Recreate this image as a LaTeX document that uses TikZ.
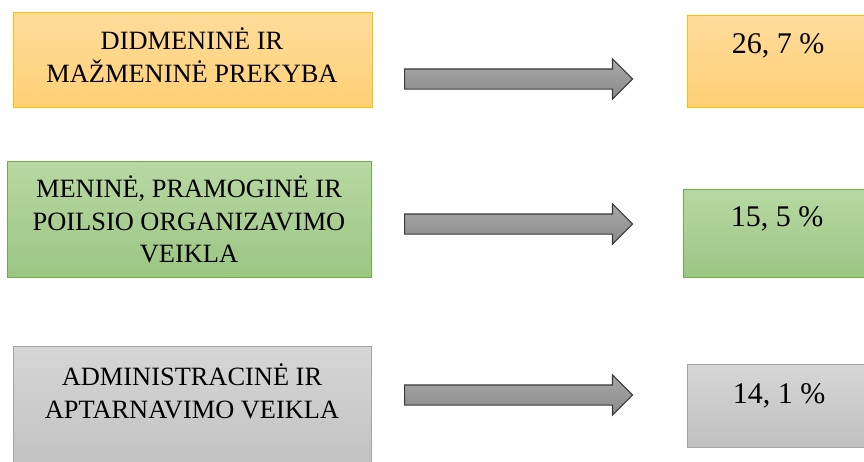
\documentclass[tikz,border=0pt]{standalone}
\usepackage{fontspec}
\setmainfont{Liberation Serif}
\usetikzlibrary{shapes.arrows}

% palette
\definecolor{orangeTop}{HTML}{FFDC9C}
\definecolor{orangeBot}{HTML}{FFD074}
\definecolor{orangeLine}{HTML}{FFC000}
\definecolor{greenTop}{HTML}{B7D8A3}
\definecolor{greenBot}{HTML}{9CC583}
\definecolor{greenLine}{HTML}{70AD47}
\definecolor{grayTop}{HTML}{D6D6D6}
\definecolor{grayBot}{HTML}{C0C0C0}
\definecolor{grayLine}{HTML}{A5A5A5}
\definecolor{arrowTop}{HTML}{A8A8A8}
\definecolor{arrowBot}{HTML}{8A8A8A}
\definecolor{arrowLine}{HTML}{3A3A3A}

\tikzset{
  box/.style={rectangle, anchor=north west, inner sep=0pt, line width=0.9pt},
  orangebox/.style={box, draw=orangeLine, top color=orangeTop, bottom color=orangeBot},
  greenbox/.style={box, draw=greenLine, top color=greenTop, bottom color=greenBot},
  graybox/.style={box, draw=grayLine, top color=grayTop, bottom color=grayBot},
  labeltext/.style={anchor=north, align=center, inner sep=0pt,
    font=\fontsize{26.4}{32.5}\selectfont},
  valuetext/.style={anchor=north, align=center, inner sep=0pt,
    font=\fontsize{30}{36}\selectfont},
  blockarrow/.style={single arrow, anchor=west, inner sep=0pt,
    text height=19pt, text depth=0pt, minimum height=228pt,
    single arrow head extend=10pt, single arrow tip angle=90,
    draw=arrowLine, line width=1.1pt,
    top color=arrowTop, bottom color=arrowBot},
}

\begin{document}
\begin{tikzpicture}[x=1pt, y=-1pt]
  \useasboundingbox (0,0) rectangle (864,461);
  \clip (0,0) rectangle (864,461);

  % left column: sectors
  \node[orangebox, minimum width=359pt, minimum height=95pt] (s1) at (13,12) {};
  \node[greenbox,  minimum width=364pt, minimum height=116pt] (s2) at (7,161) {};
  \node[graybox,   minimum width=358pt, minimum height=130pt] (s3) at (13,346) {};

  \node[labeltext] (s1t) at (192,28) {DIDMENINĖ IR\\MAŽMENINĖ PREKYBA};
  \node[labeltext] (s2t) at (189,176) {MENINĖ, PRAMOGINĖ IR\\POILSIO ORGANIZAVIMO\\VEIKLA};
  \node[labeltext] (s3t) at (192,364) {ADMINISTRACINĖ IR\\APTARNAVIMO VEIKLA};

  % right column: shares
  \node[orangebox, minimum width=182pt, minimum height=92pt] (v1) at (687,15) {};
  \node[greenbox,  minimum width=186pt, minimum height=88pt] (v2) at (683,189) {};
  \node[graybox,   minimum width=182pt, minimum height=83pt] (v3) at (687,364) {};

  \node[valuetext] (v1t) at (778,33) {26, 7 \%};
  \node[valuetext] (v2t) at (777,206) {15, 5 \%};
  \node[valuetext] (v3t) at (779,383) {14, 1 \%};

  % block arrows between the columns
  \node[blockarrow] (a1) at (404,79) {};
  \node[blockarrow] (a2) at (404,224) {};
  \node[blockarrow] (a3) at (404,395) {};
\end{tikzpicture}
\end{document}
